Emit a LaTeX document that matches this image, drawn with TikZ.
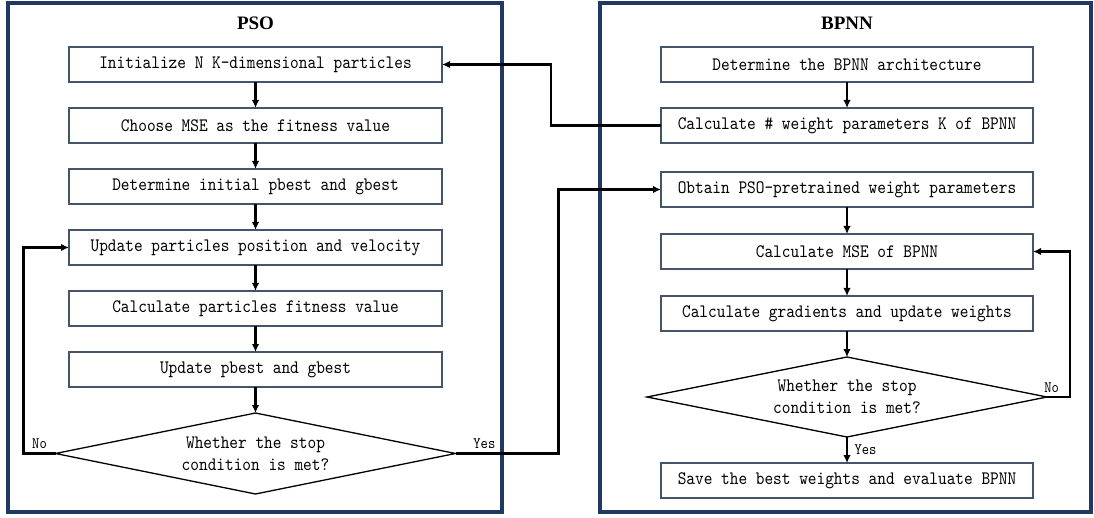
\documentclass[tikz,border=0pt]{standalone}
\usepackage{fontspec}
\setmainfont{Liberation Serif}
\newfontfamily\boxfont{lmmono10-regular.otf}[FakeStretch=0.87]
\usepackage{tikz}
\usetikzlibrary{positioning, arrows.meta, shapes.geometric}

\definecolor{frame}{HTML}{1F3864}
\definecolor{boxline}{HTML}{44546A}

\begin{document}
\begin{tikzpicture}[x=1pt, y=-1pt, node distance=26pt,
    stepbox/.style={rectangle, draw=boxline, line width=1.3pt, minimum width=373pt, minimum height=35pt, inner sep=0pt, outer sep=0pt, font=\fontsize{19}{20}\selectfont\boxfont},
    decision/.style={diamond, draw, line width=1.3pt, minimum width=400pt, minimum height=81pt, aspect=5, inner sep=0pt, outer sep=0pt, align=center, font=\fontsize{19}{22}\selectfont\boxfont},
    flow/.style={-{Latex[length=8pt, width=7.5pt]}, line width=2.4pt},
    panel/.style={draw=frame, line width=3.5pt},
    tag/.style={font=\fontsize{16}{17}\selectfont\boxfont},
    title/.style={font=\fontsize{19}{20}\selectfont\bfseries}]
    \useasboundingbox (0,0) rectangle (1094,518);

    % two panels
    \draw[panel] (8,3) rectangle (502,512);
    \draw[panel] (600,3) rectangle (1091,512);
    \node[title] (psoTitle) at (255.5,23) {PSO};
    \node[title] (bpTitle) at (847,23) {BPNN};

    % PSO side
    \node[stepbox] (init) at (255.5,64.5) {Initialize N K-dimensional particles};
    \node[stepbox, below=of init] (mse) {Choose MSE as the fitness value};
    \node[stepbox, below=of mse] (pinit) {Determine initial pbest and gbest};
    \node[stepbox, below=of pinit] (move) {Update particles position and velocity};
    \node[stepbox, below=of move] (fit) {Calculate particles fitness value};
    \node[stepbox, below=of fit] (best) {Update pbest and gbest};
    \node[decision, below=of best] (stopL) {Whether the stop\\condition is met?};

    % BPNN side
    \node[stepbox, minimum width=372pt] (arch) at (847,64.5) {Determine the BPNN architecture};
    \node[stepbox, minimum width=372pt, below=of arch] (count) {Calculate \# weight parameters K of BPNN};
    \node[stepbox, minimum width=372pt, below=29pt of count] (pre) {Obtain PSO-pretrained weight parameters};
    \node[stepbox, minimum width=372pt, below=27pt of pre] (loss) {Calculate MSE of BPNN};
    \node[stepbox, minimum width=372pt, below=27pt of loss] (grad) {Calculate gradients and update weights};
    \node[decision, minimum height=80pt, below=of grad] (stopR) {Whether the stop\\condition is met?};
    \node[stepbox, minimum width=372pt, below=of stopR] (save) {Save the best weights and evaluate BPNN};

    \draw[flow] (init) -- (mse);
    \draw[flow] (mse) -- (pinit);
    \draw[flow] (pinit) -- (move);
    \draw[flow] (move) -- (fit);
    \draw[flow] (fit) -- (best);
    \draw[flow] (best) -- (stopL);
    \draw[flow] (stopL.west) -- node[tag, above] {No} ++(-32,0) |- (move.west);
    \draw[flow] (stopL.east) -- node[tag, above, pos=0.28] {Yes} ++(103,0) |- (pre.west);
    \draw[flow] (count.west) -- ++(-110,0) |- (init.east);

    \draw[flow] (arch) -- (count);
    \draw[flow] (pre) -- (loss);
    \draw[flow] (loss) -- (grad);
    \draw[flow] (grad) -- (stopR);
    \draw[flow] (stopR) -- node[tag, right, xshift=3pt] {Yes} (save);
    \draw[flow] (stopR.east) -- node[tag, above, pos=0.2] {No} ++(23,0) |- (loss.east);
\end{tikzpicture}
\end{document}
